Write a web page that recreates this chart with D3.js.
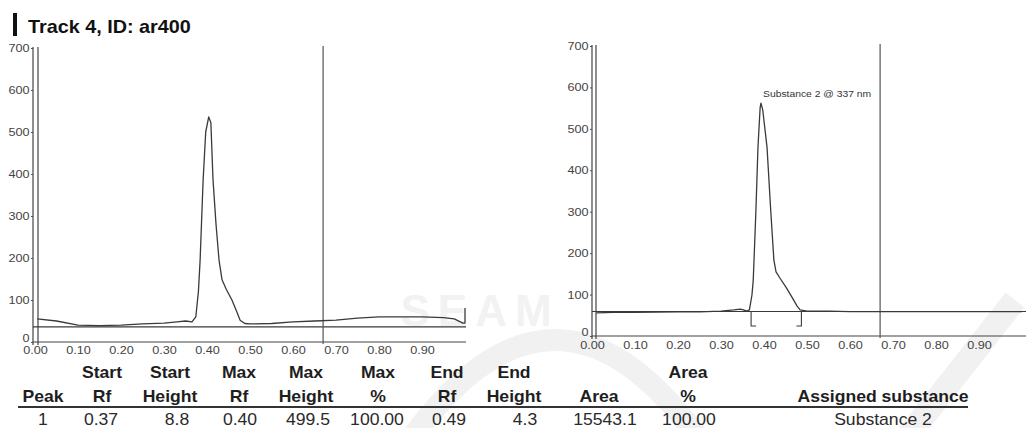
<!DOCTYPE html>
<html>
<head>
<meta charset="utf-8">
<script src="https://cdn.jsdelivr.net/npm/d3@7/dist/d3.min.js"></script>
<style>
  html, body { margin: 0; padding: 0; background: #fff; }
  svg { display: block; }
  text { font-family: "Liberation Sans", Arial, Helvetica, sans-serif; }
</style>
</head>
<body>
<svg id="chart" width="1029" height="428"></svg>
<script>
// ---- data ----
const trackTitle = "Track 4, ID: ar400";
const yTickValues = [0, 100, 200, 300, 400, 500, 600, 700];
const xTickValues = [0, 0.1, 0.2, 0.3, 0.4, 0.5, 0.6, 0.7, 0.8, 0.9];

// raw densitogram of the track (Rf, AU)
const scanRf = [0.005, 0.05, 0.10, 0.15, 0.20, 0.25, 0.30, 0.33, 0.35, 0.365, 0.374, 0.380, 0.384,
  0.391, 0.397, 0.404, 0.409, 0.414, 0.421, 0.428, 0.435, 0.445, 0.458, 0.470, 0.477, 0.488,
  0.50, 0.55, 0.60, 0.65, 0.70, 0.75, 0.80, 0.85, 0.90, 0.95, 0.975, 0.995, 1.0, 1.0];
const scanAU = [55, 50, 40, 39, 40, 43, 45, 48, 50, 48, 60, 120, 195,
  386, 500, 536, 522, 386, 280, 195, 148, 125, 100, 70, 52, 44,
  43, 44, 48, 50, 52, 57, 60, 60, 60, 58, 55, 45, 45, 81];
const scanBaseline = 36;

// baseline-corrected trace with the integrated peak (Rf, AU)
const peakRf = [0.01, 0.05, 0.10, 0.20, 0.25, 0.30, 0.33, 0.345, 0.352, 0.360, 0.366, 0.372, 0.375,
  0.381, 0.386, 0.391, 0.393, 0.397, 0.407, 0.416, 0.423, 0.428, 0.437, 0.451, 0.465, 0.477,
  0.484, 0.50, 0.55, 0.60, 0.70, 0.80, 0.90, 1.0];
const peakAU = [56, 57, 57, 58, 58, 60, 63, 65, 63, 60, 63, 99, 135,
  297, 456, 551, 562, 546, 456, 297, 183, 155, 140, 118, 94, 72,
  63, 60, 60, 59, 59, 59, 59, 59];
const peakBaseline = 59;
const peakLabel = "Substance 2 @ 337 nm";
const peakLabelRf = 0.393, peakLabelAU = 562;
const integrationStartRf = 0.370, integrationEndRf = 0.487, integrationFootAU = 24;

const solventFrontRf = 0.67;

// peak table
const headerTop = ["", "Start", "Start", "Max", "Max", "Max", "End", "End", "", "Area", ""];
const headerBottom = ["Peak", "Rf", "Height", "Rf", "Height", "%", "Rf", "Height", "Area", "%", "Assigned substance"];
const rowValues = ["1", "0.37", "8.8", "0.40", "499.5", "100.00", "0.49", "4.3", "15543.1", "100.00", "Substance 2"];

// ---- layout ----
const svg = d3.select("#chart");
const ink = "#3a3a3a";
const stretch = (sx) => `scale(${sx},1)`;

// faint watermark behind the table
const wm = svg.append("g").attr("fill", "none").attr("stroke", "#f1f1f1");
wm.append("path").attr("d", "M410,440 Q555,240 700,440").attr("stroke-width", 22);
wm.append("path").attr("d", "M905,440 L1015,300").attr("stroke-width", 24);
svg.append("text").attr("x", 480).attr("y", 326).attr("text-anchor", "middle")
  .attr("font-size", 44).attr("font-weight", "bold").attr("letter-spacing", 8)
  .attr("fill", "#f2f2f2").text("SEAM");

// title
svg.append("rect").attr("x", 13).attr("y", 13).attr("width", 4).attr("height", 23).attr("fill", "#111");
svg.append("text")
  .attr("transform", `translate(28,33) ${stretch(1.1)}`)
  .attr("font-size", 18).attr("font-weight", "bold").attr("fill", "#111")
  .text(trackTitle);

function panel(cfg) {
  const x = d3.scaleLinear().domain([0, 1]).range([cfg.x0, cfg.x1]);
  const y = d3.scaleLinear().domain([0, 700]).range([cfg.yZero, cfg.yTop]);
  const g = svg.append("g");

  // y axis (double frame line)
  const ya = g.append("g").attr("transform", `translate(${cfg.axisX},0)`)
    .call(d3.axisLeft(y).tickValues(yTickValues).tickSize(2).tickPadding(1).tickFormat(d3.format("d")));
  ya.select(".domain").remove();
  ya.selectAll("line").attr("stroke", "#555");
  ya.selectAll("text").attr("font-size", 11).attr("fill", "#444")
    .attr("font-family", "Liberation Sans, Arial, sans-serif")
    .attr("transform", d => d === 0 ? `translate(0,-4) ${stretch(1.15)}` : stretch(1.15));
  [cfg.axisX, cfg.innerX].forEach(px => g.append("line")
    .attr("x1", px).attr("x2", px).attr("y1", y(700) - 1).attr("y2", y(0) + 3)
    .attr("stroke", "#444").attr("stroke-width", 1.2));

  // x axis
  const xa = g.append("g").attr("transform", `translate(0,${cfg.yZero})`)
    .call(d3.axisBottom(x).tickValues(xTickValues).tickSize(0).tickPadding(cfg.xPad).tickFormat(d3.format(".2f")));
  xa.select(".domain").remove();
  xa.selectAll("text").attr("font-size", 11).attr("fill", "#444")
    .attr("font-family", "Liberation Sans, Arial, sans-serif")
    .attr("transform", stretch(1.15));
  g.append("line").attr("x1", cfg.axisX).attr("x2", cfg.axisEnd)
    .attr("y1", cfg.yZero).attr("y2", cfg.yZero).attr("stroke", "#444").attr("stroke-width", 1.2);

  // baseline
  g.append("line").attr("x1", cfg.axisX).attr("x2", cfg.axisEnd)
    .attr("y1", y(cfg.baseline)).attr("y2", y(cfg.baseline))
    .attr("stroke", ink).attr("stroke-width", 1.1);

  // solvent front
  g.append("line").attr("x1", x(solventFrontRf)).attr("x2", x(solventFrontRf))
    .attr("y1", cfg.yTop - 2).attr("y2", cfg.yZero + 2)
    .attr("stroke", "#555").attr("stroke-width", 1.2);

  // trace
  const pts = cfg.rf.map((r, i) => [r, cfg.au[i]]);
  g.append("path").datum(pts)
    .attr("d", d3.line().x(d => x(d[0])).y(d => y(d[1])))
    .attr("fill", "none").attr("stroke", ink).attr("stroke-width", 1.3)
    .attr("stroke-linejoin", "round");
  return { g, x, y };
}

panel({ x0: 35, x1: 465, yTop: 48, yZero: 342, axisX: 33, innerX: 38, axisEnd: 466, xPad: 4,
        rf: scanRf, au: scanAU, baseline: scanBaseline });

const right = panel({ x0: 592, x1: 1022, yTop: 46, yZero: 336, axisX: 592, innerX: 596, axisEnd: 1026, xPad: 5,
        rf: peakRf, au: peakAU, baseline: peakBaseline });

// integration limits
[[integrationStartRf, 5], [integrationEndRf, -5]].forEach(([r, foot]) => {
  const px = right.x(r), yb = right.y(peakBaseline), yf = right.y(integrationFootAU);
  right.g.append("path")
    .attr("d", `M${px},${yb} L${px},${yf} L${px + foot},${yf}`)
    .attr("fill", "none").attr("stroke", ink).attr("stroke-width", 1.1);
});

// peak label
right.g.append("text")
  .attr("transform", `translate(${right.x(peakLabelRf) + 2},${right.y(peakLabelAU) - 6}) ${stretch(1.15)}`)
  .attr("font-size", 9).attr("fill", "#333").text(peakLabel);

// ---- peak table ----
const headX = [43, 102, 170, 239, 306, 378, 447, 514, 599, 688, 883];
const valX  = [43, 101, 177, 240, 308, 377, 449, 525, 605, 689, 883];
const tbl = svg.append("g").attr("fill", "#1e1e1e").attr("text-anchor", "middle");
headerTop.forEach((t, i) => {
  if (!t) return;
  tbl.append("text").attr("transform", `translate(${headX[i]},378) ${stretch(1.1)}`)
    .attr("font-size", 16).attr("font-weight", "bold").text(t);
});
headerBottom.forEach((t, i) => {
  tbl.append("text").attr("transform", `translate(${headX[i]},402) ${stretch(1.1)}`)
    .attr("font-size", 16).attr("font-weight", "bold").text(t);
});
tbl.append("line").attr("x1", 18).attr("x2", 968).attr("y1", 407).attr("y2", 407)
  .attr("stroke", "#333").attr("stroke-width", 2);
rowValues.forEach((t, i) => {
  tbl.append("text").attr("transform", `translate(${valX[i]},425) ${stretch(1.1)}`)
    .attr("font-size", 16).attr("fill", "#2a2a2a").text(t);
});
</script>
</body>
</html>
